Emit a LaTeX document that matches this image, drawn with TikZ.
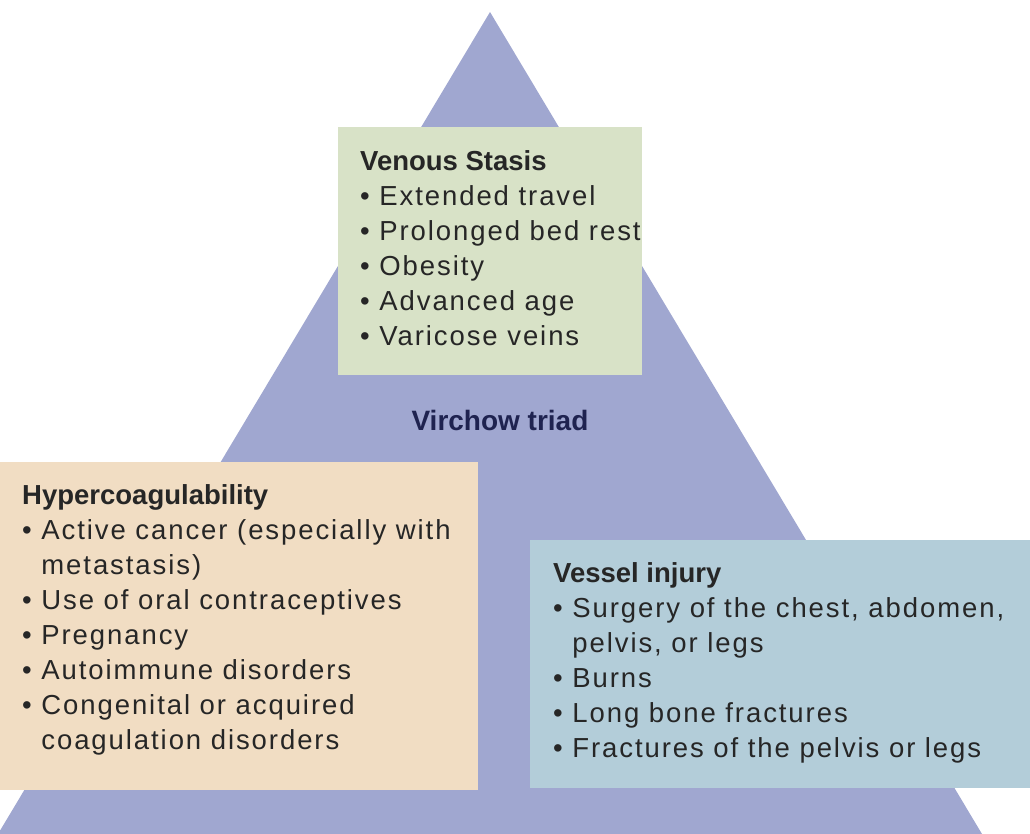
\documentclass[tikz,border=0pt]{standalone}
\usepackage{fontspec}
\setmainfont{Liberation Sans}
\newfontfamily\bodyfont[LetterSpace=7]{Liberation Sans}
\newcommand{\hd}[1]{{\normalfont\bfseries #1}}
\begin{document}
\begin{tikzpicture}[x=1pt,y=-1pt,
  txt/.style={anchor=north west,align=left,inner sep=0pt,font=\fontsize{27.5}{35}\bodyfont,text=black!85}]
\useasboundingbox (0,0) rectangle (1030,834);
\definecolor{tri}{HTML}{A0A7D0}
\definecolor{gbox}{HTML}{D8E2C7}
\definecolor{obox}{HTML}{F1DDC3}
\definecolor{bbox}{HTML}{B3CDD9}
\definecolor{navy}{HTML}{1F2350}
\fill[tri] (490,12) coordinate (apex) -- (982,834) -- (-2,834) -- cycle;
\fill[gbox] (338,127) rectangle (642,375);
\fill[obox] (0,462) rectangle (478,790);
\fill[bbox] (530,540) rectangle (1030,788);
\node[txt] (vs) at (360,150) {\hd{Venous Stasis}\\
• Extended travel\\
• Prolonged bed rest\\
• Obesity\\
• Advanced age\\
• Varicose veins};
\node[font=\fontsize{28}{30}\selectfont\bfseries,text=navy] (vt) at (500,420) {Virchow triad};
\node[txt] (hc) at (22,484) {\hd{Hypercoagulability}\\
• Active cancer (especially with\\
\phantom{• }metastasis)\\
• Use of oral contraceptives\\
• Pregnancy\\
• Autoimmune disorders\\
• Congenital or acquired\\
\phantom{• }coagulation disorders};
\node[txt] (vi) at (553,562) {\hd{Vessel injury}\\
• Surgery of the chest, abdomen,\\
\phantom{• }pelvis, or legs\\
• Burns\\
• Long bone fractures\\
• Fractures of the pelvis or legs};
\end{tikzpicture}
\end{document}
